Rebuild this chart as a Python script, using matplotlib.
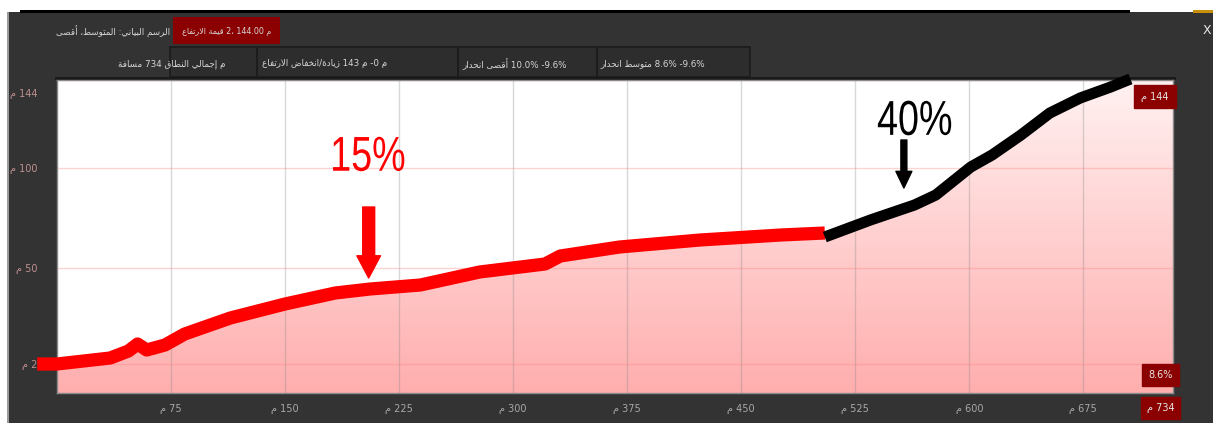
import numpy as np
import matplotlib
matplotlib.use("Agg")
import matplotlib.pyplot as plt
from matplotlib.colors import LinearSegmentedColormap
from matplotlib.font_manager import FontProperties
from matplotlib.patches import PathPatch, Rectangle
from matplotlib.textpath import TextPath
from matplotlib.transforms import Affine2D, ScaledTranslation

# elevation profile (distance m, elevation m)
dist = [0, 35, 47, 53, 59, 71, 84, 114, 150, 183, 206, 239, 278, 321, 331, 370,
        423, 476, 505, 535, 564, 578, 601, 615, 634, 653, 673, 693, 706, 734]
elev = [2, 5, 8.5, 12, 9, 11.5, 17, 25, 32, 37.5, 39.5, 41.5, 48, 52, 56, 60.5,
        64, 66.5, 66.5, 74, 81.5, 86.5, 100.5, 106.5, 116.5, 127.5, 135, 140.5, 144.5, 144]

# hand-drawn highlight strokes over the profile
red_dist = [-13, 0, 35, 47, 53, 59, 71, 84, 114, 150, 183, 206, 239, 278, 321, 331, 370, 423, 476, 505]
red_elev = [2, 2, 5, 8.5, 12, 9, 11.5, 17, 25, 32, 37.5, 39.5, 41.5, 48, 52, 56, 60.5, 64, 66.5, 67.5]
black_dist = [505, 535, 564, 578, 601, 615, 634, 653, 673, 693, 706]
black_elev = [65.5, 74, 81.5, 86.5, 100.5, 106.5, 116.5, 127.5, 135, 140.5, 144.5]

x_ticks = [75, 150, 225, 300, 375, 450, 525, 600, 675]
y_ticks = [2, 50, 100, 144]
total_dist = 734
avg_slope = "8.6%"

header_left = "الرسم البياني: المتوسط، أقصى"
header_box = "قيمة الارتفاع 2، 144.00 م"
row2 = ["مسافة 734 م إجمالي النطاق",
        "زيادة/انخفاض الارتفاع 143 م -0 م",
        "أقصى انحدار 10.0% -9.6%",
        "متوسط انحدار 8.6% -9.6%"]

# --- minimal Arabic shaping (matplotlib draws glyphs left to right, unjoined) ---
AR_LETTERS = "ءآأؤإئابةتثجحخدذرزسشصضطظعغفقكلمنهوىي"
AR_NFORMS = [1, 2, 2, 2, 2, 4, 2, 4, 2, 4, 4, 4, 4, 4, 2, 2, 2, 2, 4, 4, 4, 4,
             4, 4, 4, 4, 4, 4, 4, 4, 4, 4, 4, 2, 2, 4]
AR_BASE = {}
_code = 0xFE80
for _ch, _n in zip(AR_LETTERS, AR_NFORMS):
    AR_BASE[_ch] = (_code, _n)
    _code += _n
LAM_ALEF = {"ا": 0xFEFB, "أ": 0xFEF7, "إ": 0xFEF9, "آ": 0xFEF5}


def shape_word(word):
    out = []
    prev_fwd = False
    i = 0
    while i < len(word):
        ch = word[i]
        if ch == "ل" and i + 1 < len(word) and word[i + 1] in LAM_ALEF:
            out.append(chr(LAM_ALEF[word[i + 1]] + (1 if prev_fwd else 0)))
            prev_fwd = False
            i += 2
            continue
        if ch not in AR_BASE:
            out.append(ch)
            prev_fwd = False
            i += 1
            continue
        base, n = AR_BASE[ch]
        nxt = word[i + 1] if i + 1 < len(word) else ""
        next_joins = n == 4 and nxt in AR_BASE and nxt != "ء"
        if n == 1:
            form = 0
        elif prev_fwd and next_joins:
            form = 3
        elif prev_fwd:
            form = 1
        elif next_joins:
            form = 2
        else:
            form = 0
        out.append(chr(base + form))
        prev_fwd = n == 4
        i += 1
    return "".join(reversed(out))


def is_arabic(tok):
    return any(c in AR_BASE for c in tok)


def ar(text, rtl=False):
    toks = text.split(" ")
    if rtl:
        return " ".join(shape_word(t) if is_arabic(t) else t for t in reversed(toks))
    res, run = [], []
    for t in toks + [None]:
        if t is not None and is_arabic(t):
            run.append(shape_word(t))
            continue
        res.extend(reversed(run))
        run = []
        if t is not None:
            res.append(t)
    return " ".join(res)


def metres(v):
    return ar(f"{v} م", rtl=True)


W, H = 1213, 423
fig = plt.figure(figsize=(W / 100, H / 100), dpi=100, facecolor="white")


def fx(x):
    return x / W


def fy(y):
    return 1 - y / H


def frect(x0, y0, x1, y1, **kw):
    kw.setdefault("zorder", -2)
    fig.add_artist(Rectangle((fx(x0), fy(y1)), fx(x1 - x0), (y1 - y0) / H,
                             transform=fig.transFigure, **kw))


# window chrome
frect(8, 12, W, H, color="#333333", lw=0, zorder=-3)
frect(7, 12, 9, H, color="#9a9a9a", lw=0)
frect(20, 10, 1130, 13, color="black", lw=0)
frect(1193, 10, W, 13, color="#c8900a", lw=0)
fig.text(fx(1207), fy(31), "X", color="#e8e8e8", fontsize=9, ha="center", va="center")

# header rows
txt = dict(color="#d6d6d6", fontsize=6.3, family="DejaVu Sans", va="center")
fig.text(fx(170), fy(32), ar(header_left), ha="right", **txt)
frect(173, 17, 280, 44, color="#8b0000", lw=0)
fig.text(fx(226.5), fy(31), ar(header_box), ha="center", **dict(txt, fontsize=5.8))

frect(170, 47, 750, 77, facecolor="#2d2d2d", edgecolor="#1c1c1c", lw=1.2)
for xd in [256, 457, 596]:
    frect(xd, 47, xd + 1.5, 77, color="#1c1c1c", lw=0)
fig.text(fx(226), fy(64), ar(row2[0]), ha="right", **txt)
fig.text(fx(262), fy(64), ar(row2[1]), ha="left", **txt)
fig.text(fx(462), fy(64), ar(row2[2]), ha="left", **txt)
fig.text(fx(600), fy(64), ar(row2[3]), ha="left", **txt)
frect(55, 77, 1176, 80, color="#1a1a1a", lw=0)

# profile axes
ax = fig.add_axes([fx(57), 30 / H, fx(1116), 313 / H])
ax.set_facecolor("white")
ax.set_xlim(0, total_dist)
ax.set_ylim(-12.5, 144)

pink = LinearSegmentedColormap.from_list("pinkfill", ["#ffaeae", "#fff1f1"])
grad = np.linspace(0, 1, 256).reshape(-1, 1)
im = ax.imshow(grad, extent=[0, total_dist, -12.5, 144], origin="lower",
               aspect="auto", cmap=pink, zorder=1)
area = ax.fill_between(dist, elev, -12.5, color="none", lw=0)
im.set_clip_path(area.get_paths()[0], ax.transData)
ax.plot(dist, elev, color="#222222", lw=1.2, zorder=2)

ax.set_xticks(x_ticks)
ax.set_xticklabels([metres(v) for v in x_ticks])
ax.set_yticks(y_ticks)
ax.set_yticklabels([metres(v) for v in y_ticks])
ax.tick_params(axis="x", length=0, pad=8, labelsize=7, labelcolor="#a8a8a8")
ax.tick_params(axis="y", length=0, pad=14, labelsize=7, labelcolor="#c09090")
top_lbl = ax.get_yticklabels()[-1]
top_lbl.set_transform(top_lbl.get_transform() + ScaledTranslation(0, -13 / 100, fig.dpi_scale_trans))

ax.grid(axis="x", color="#808080", alpha=0.3, lw=1)
ax.grid(axis="y", color="#ff8080", alpha=0.35, lw=1)
for s in ax.spines.values():
    s.set_color("#8a8a8a")
    s.set_linewidth(1)

# highlight strokes
ax.plot(red_dist, red_elev, color="#ff0000", lw=9.5, solid_capstyle="butt",
        solid_joinstyle="round", zorder=4, clip_on=False)
ax.plot(black_dist, black_elev, color="black", lw=8, solid_capstyle="butt",
        solid_joinstyle="round", zorder=4, clip_on=False)


def narrow_label(s, x, y, color, px=49, squeeze=0.77):
    # condensed text drawn as a path, centred on a data point
    tp = TextPath((0, 0), s, size=px, prop=FontProperties(family="Liberation Sans"))
    bb = tp.get_extents()
    tr = (Affine2D().translate(-(bb.x0 + bb.x1) / 2, -(bb.y0 + bb.y1) / 2)
          .scale(squeeze, 1) + ScaledTranslation(x, y, ax.transData))
    ax.add_artist(PathPatch(tp, transform=tr, color=color, lw=0, zorder=5))


narrow_label("15%", 205, 107, "#ff0000")
ax.annotate("", xy=(205, 45), xytext=(205, 80.5),
            arrowprops=dict(arrowstyle="simple,head_length=16,head_width=17,tail_width=8.6",
                            mutation_scale=1, color="#ff0000", shrinkA=0, shrinkB=0), zorder=5)
narrow_label("40%", 564, 125, "black")
ax.annotate("", xy=(557, 90), xytext=(557, 114),
            arrowprops=dict(arrowstyle="simple,head_length=12,head_width=11.5,tail_width=4.3",
                            mutation_scale=1, color="black", shrinkA=0, shrinkB=0), zorder=5)

# value boxes
box = dict(boxstyle="square,pad=0.7", fc="#8b0000", ec="#8b0000")
ax.annotate(metres(max(y_ticks)), xy=(total_dist, 144), xycoords="data",
            xytext=(-13, -12), textcoords="offset points", ha="center", va="center",
            color="#e6e6e6", fontsize=7, bbox=box, zorder=6, annotation_clip=False)
ax.annotate(avg_slope, xy=(1, 0), xycoords="axes fraction",
            xytext=(-9, 13), textcoords="offset points", ha="center", va="center",
            color="#e6e6e6", fontsize=7, bbox=dict(box, boxstyle="square,pad=0.6"),
            zorder=6, annotation_clip=False)
ax.annotate(metres(total_dist), xy=(total_dist, 0), xycoords=("data", "axes fraction"),
            xytext=(-9, -11), textcoords="offset points", ha="center", va="center",
            color="#e6e6e6", fontsize=7, bbox=dict(box, boxstyle="square,pad=0.6"),
            zorder=6, annotation_clip=False)

fig.savefig("out.png", dpi=100, facecolor=fig.get_facecolor())
